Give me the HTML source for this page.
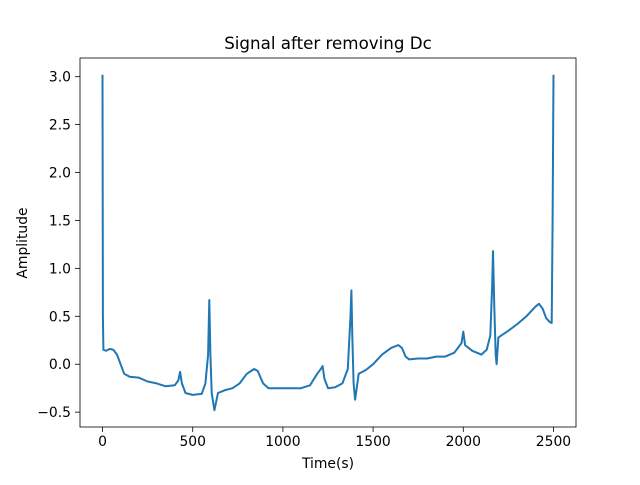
<!DOCTYPE html>
<html><head><meta charset="utf-8"><style>
body{margin:0;background:#fff;font-family:"Liberation Sans","DejaVu Sans",sans-serif;}
text{font-family:"DejaVu Sans","Liberation Sans",sans-serif;fill:#000;}
</style></head><body>
<svg id="chart" width="640" height="480" xmlns="http://www.w3.org/2000/svg">
<rect width="640" height="480" fill="#fff"/>
<text x="328" y="49" font-size="16.7" text-anchor="middle">Signal after removing Dc</text>
<text x="328" y="468" font-size="13.9" text-anchor="middle">Time(s)</text>
<text x="0" y="0" font-size="13.9" text-anchor="middle" transform="translate(27,243) rotate(-90)">Amplitude</text>
<g id="ticks"></g>
<polyline id="line" fill="none" stroke="#1f77b4" stroke-width="2" stroke-linejoin="round"/>
<rect x="80" y="58" width="496" height="369" fill="none" stroke="#000" stroke-width="0.8"/>
</svg>
<script>
const times=[0,2,5,20,40,60,80,100,120,150,200,250,300,350,400,420,430,440,460,500,550,570,585,592,598,605,620,640,680,720,760,800,840,860,890,920,1000,1100,1150,1190,1210,1220,1230,1250,1290,1330,1360,1375,1380,1385,1392,1400,1420,1460,1500,1550,1600,1640,1660,1680,1700,1750,1800,1850,1900,1950,1990,2000,2010,2050,2100,2130,2150,2160,2165,2172,2180,2185,2195,2250,2300,2350,2400,2420,2440,2460,2480,2490,2495,2500];
const amps=[3.02,0.5,0.15,0.14,0.16,0.15,0.1,0,-0.1,-0.13,-0.14,-0.18,-0.2,-0.23,-0.22,-0.17,-0.08,-0.2,-0.3,-0.32,-0.31,-0.2,0.1,0.67,0.1,-0.3,-0.48,-0.3,-0.27,-0.25,-0.2,-0.1,-0.05,-0.07,-0.2,-0.25,-0.25,-0.25,-0.22,-0.1,-0.05,-0.02,-0.15,-0.25,-0.24,-0.2,-0.05,0.5,0.77,0.3,-0.2,-0.37,-0.1,-0.06,0,0.1,0.17,0.2,0.17,0.08,0.05,0.06,0.06,0.08,0.08,0.12,0.22,0.34,0.2,0.14,0.1,0.15,0.3,0.8,1.18,0.6,0.1,0,0.28,0.35,0.42,0.5,0.6,0.63,0.58,0.48,0.44,0.43,1.5,3.02];
const xTicks=[0,500,1000,1500,2000,2500];
const yTicks=[-0.5,0,0.5,1.0,1.5,2.0,2.5,3.0];
const yTickLabels=["−0.5","0.0","0.5","1.0","1.5","2.0","2.5","3.0"];
const X=v=>80+(v+125)/2750*496;
const Y=v=>427-(v+0.655)/3.85*369;
const ns="http://www.w3.org/2000/svg";
const g=document.getElementById('ticks');
function mk(t,a){const e=document.createElementNS(ns,t);for(const k in a)e.setAttribute(k,a[k]);g.appendChild(e);return e;}
xTicks.forEach(v=>{
  const l=mk('line',{x1:X(v),x2:X(v),y1:427,y2:432,stroke:'#000','stroke-width':0.8});
  
  
  const t=mk('text',{x:X(v),y:446,'font-size':13.9,'text-anchor':'middle'});t.textContent=v;
  
  
});
yTicks.forEach((v,i)=>{
  const l=mk('line',{x1:75,x2:80,y1:Y(v),y2:Y(v),stroke:'#000','stroke-width':0.8});
  
  
  const t=mk('text',{x:71,y:Y(v)+5,'font-size':13.9,'text-anchor':'end'});t.textContent=yTickLabels[i];
  
  
});
document.getElementById('line').setAttribute('points',times.map((t,i)=>X(t).toFixed(1)+','+Y(amps[i]).toFixed(1)).join(' '));
</script>
</body></html>
